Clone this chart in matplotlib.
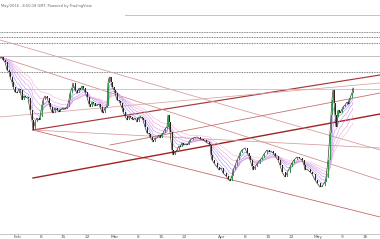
#!/usr/bin/env python3
"""Recreate a small TradingView-style candle chart with trend lines."""

import matplotlib

matplotlib.use("Agg")
import matplotlib.pyplot as plt
import numpy as np
import pandas as pd

# bar positions (chart time slots) and closing levels
bar_x = [0, 2, 3, 5, 7, 9, 10, 12, 13, 15, 17, 19, 20, 22, 24, 25, 28, 30, 32, 33,
         35, 37, 39, 40, 42, 43, 45, 47, 49, 50, 52, 53, 55, 57, 59, 60, 63, 65, 67, 69,
         70, 72, 73, 75, 77, 79, 80, 82, 83, 85, 87, 89, 90, 92, 93, 95, 97, 99, 100, 102,
         103, 105, 107, 108, 109, 110, 111, 112, 114, 115, 117, 119, 120, 122, 123, 125, 127, 129, 130, 132,
         133, 135, 137, 139, 140, 142, 143, 145, 147, 149, 150, 152, 153, 155, 157, 159, 160, 162, 163, 165,
         167, 168, 169, 170, 172, 173, 175, 177, 179, 180, 182, 183, 185, 187, 189, 190, 193, 197, 200, 203,
         206, 209, 210, 211, 212, 214, 217, 219, 221, 223, 226, 228, 230, 232, 233, 235, 237, 239, 240, 242,
         245, 247, 249, 250, 252, 253, 255, 257, 260, 262, 264, 267, 269, 271, 273, 275, 278, 280, 282, 285,
         287, 290, 292, 294, 297, 299, 302, 304, 305, 307, 310, 312, 315, 317, 320, 322, 325, 326, 328, 330,
         331, 332, 333, 334, 335, 336, 337, 338, 339, 340, 342, 343, 345, 347, 348, 349, 350, 352, 353]
close = [182, 183, 180, 178, 170, 168, 163, 158, 153, 148, 147, 151, 150, 140, 144, 143, 142, 130, 120, 110,
         118, 122, 120, 123, 135, 140, 144, 142, 137, 133, 128, 127, 132, 130, 128, 130, 132, 131, 133, 140,
         147, 152, 157, 150, 147, 152, 150, 154, 152, 148, 143, 136, 133, 138, 137, 134, 135, 136, 133, 128,
         127, 132, 134, 157, 162, 163, 158, 153, 150, 147, 140, 139, 137, 132, 128, 124, 120, 124, 123, 121,
         120, 122, 118, 123, 123, 122, 120, 113, 107, 106, 103, 100, 98, 102, 102, 105, 102, 106, 107, 111,
         113, 125, 118, 108, 90, 85, 88, 90, 94, 93, 97, 95, 96, 95, 98, 100, 102, 103, 101, 100,
         98, 96, 95, 85, 80, 77, 73, 70, 72, 67, 64, 61, 59, 64, 70, 74, 80, 84, 87, 90,
         92, 87, 84, 80, 74, 70, 73, 76, 80, 82, 86, 90, 88, 89, 87, 84, 80, 75, 68, 63,
         67, 73, 77, 80, 83, 82, 80, 75, 70, 71, 68, 66, 60, 57, 53, 54, 58, 62, 80, 107,
         125, 140, 150, 137, 125, 113, 123, 130, 128, 127, 131, 133, 135, 138, 136, 140, 142, 147, 152]

# drawn trend lines: (x0, level0, x1, level1)
support_lines = {
    "lower_channel": (33, 110, 380, 23),
    "long_support": (33, 62, 380, 126),
    "upper_support": (33, 110, 380, 165),
    "fall_a": (0, 200, 380, 90),
    "fall_b": (0, 183, 380, 60),
    "flat": (0, 151, 380, 151),
    "rise_a": (0, 123, 380, 157),
    "rise_b": (33, 110, 380, 92),
    "rise_c": (110, 95, 380, 147),
}
dotted_levels = [208, 203, 197, 168]
grey_levels = [184]
top_level = 225
top_level_start = 125

tick_pos = [18, 41, 63, 87, 115, 138, 161, 184, 222, 245, 268, 291, 318, 342, 365]
tick_text = ["Feb", "8", "15", "22", "Mar", "8", "15", "22", "Apr", "8", "15", "22", "May", "9", "16"]

ribbon_spans = [4, 7, 11, 16, 23, 32]
RIBBON_COLORS = ["#8f90f2", "#a68ef0", "#bf8fe8", "#d596e0", "#e6a2d9", "#f0b4da"]
LINE_STYLE = {
    "lower_channel": ("#c46a6a", 0.6),
    "long_support": ("#a02222", 1.0),
    "upper_support": ("#a83838", 0.85),
    "fall_a": ("#d49a9a", 0.55),
    "fall_b": ("#cf8a8a", 0.55),
    "flat": ("#e2aaaa", 0.55),
    "rise_a": ("#d9a3a3", 0.55),
    "rise_b": ("#d49a9a", 0.55),
    "rise_c": ("#c87070", 0.6),
}
UP = "#2f9a4a"
DOWN = "#2e241b"


def main() -> None:
    fig = plt.figure(figsize=(3.8, 2.4), dpi=100)
    ax = fig.add_axes([0, 0.025, 1, 0.975])
    ax.set_xlim(0, 380)
    ax.set_ylim(6, 240)

    for level in dotted_levels:
        ax.axhline(level, color="#5a5a5a", lw=0.6, ls=(0, (1, 1)), zorder=1)
    for level in grey_levels:
        ax.axhline(level, color="#b5b5b5", lw=0.6, zorder=1)
    ax.plot([top_level_start, 380], [top_level, top_level], color="#c4c4c4", lw=0.7, zorder=1)

    for key, (x0, y0, x1, y1) in support_lines.items():
        color, width = LINE_STYLE[key]
        ax.plot([x0, x1], [y0, y1], color=color, lw=width, zorder=2)

    closes = pd.Series(close, dtype=float)
    for span, color in zip(ribbon_spans, RIBBON_COLORS):
        ax.plot(bar_x, closes.ewm(span=span, adjust=False).mean(), color=color, lw=0.4, zorder=3)

    xs = np.array(bar_x, dtype=float)
    cs = np.array(close, dtype=float)
    opens = np.r_[cs[0], cs[:-1]]
    ax.plot(xs, cs, color=DOWN, lw=0.45, zorder=4)
    colors = [UP if c >= o else DOWN for o, c in zip(opens, cs)]
    heights = np.maximum(np.abs(cs - opens), 0.8)
    ax.bar(xs, heights, bottom=np.minimum(opens, cs), width=1.0, color=colors, lw=0, zorder=5)

    ax.text(0.002, 0.985, "May/2016 - 8:50:18 GMT. Powered by TradingView", transform=ax.transAxes,
            fontsize=2.6, color="#666666", va="top", ha="left")

    ax.set_xticks(tick_pos)
    ax.set_xticklabels(tick_text, fontsize=3.2, color="#555555")
    ax.tick_params(axis="x", length=0, pad=0.8)
    ax.set_yticks([])
    for side in ("top", "left", "right"):
        ax.spines[side].set_visible(False)
    ax.spines["bottom"].set_color("#bdbdbd")
    ax.spines["bottom"].set_linewidth(0.6)
    fig.add_artist(plt.Line2D([0, 1], [0.006, 0.006], color="#cfcfcf", lw=0.6))

    fig.savefig("out.png", dpi=100)
    plt.close(fig)


if __name__ == "__main__":
    main()
